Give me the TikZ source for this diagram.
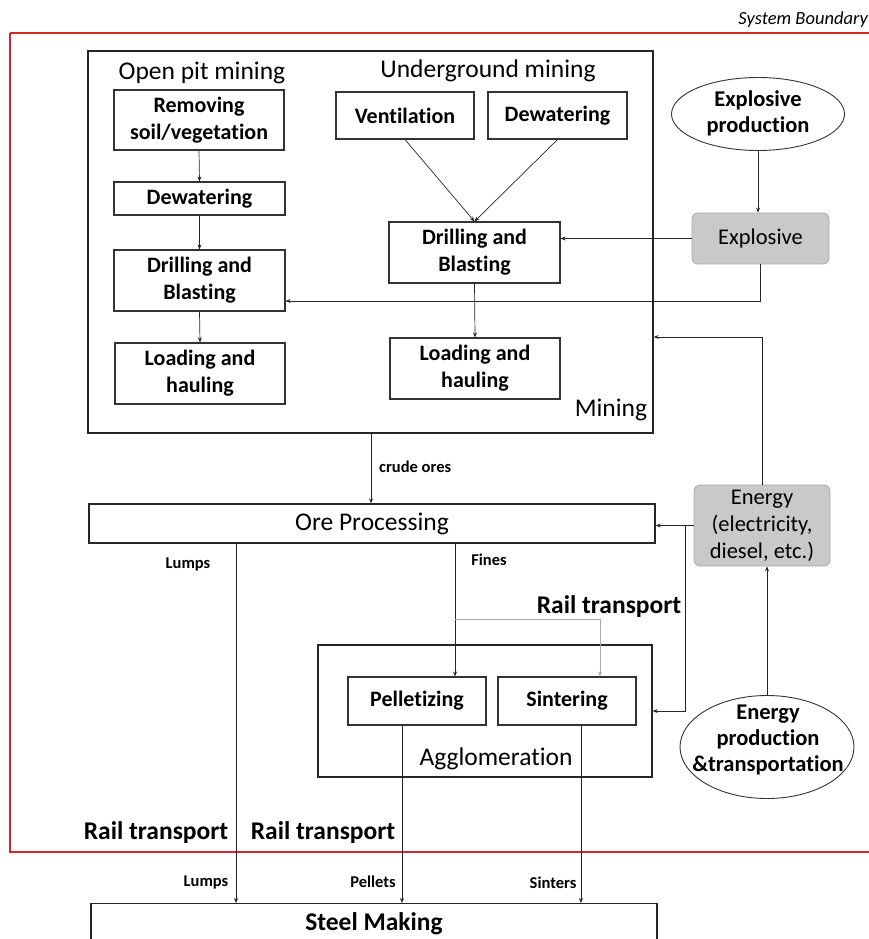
\documentclass[tikz,border=0pt]{standalone}
\usepackage{fontspec}
\setmainfont{Carlito}[Ligatures=NoCommon]
\usetikzlibrary{arrows.meta,shapes.geometric}
\definecolor{redb}{HTML}{D7262B}
\definecolor{grayfill}{HTML}{C9C9C9}
\definecolor{grayline}{HTML}{A8A8A8}
\tikzset{
  box/.style={draw=black!80, line width=1.1pt, inner sep=0pt, align=center, font=\fontsize{22}{27}\selectfont\bfseries},
  bigbox/.style={draw=black!85, line width=1.3pt, inner sep=0pt},
  graybox/.style={draw=grayline, fill=grayfill, rounded corners=6pt, line width=0.8pt, inner sep=0pt, align=center, font=\fontsize{22.5}{27}\selectfont},
  oval/.style={draw=black!80, ellipse, line width=0.9pt, inner sep=0pt},
  ovaltext/.style={inner sep=0pt, align=center, font=\fontsize{22.5}{26}\selectfont\bfseries},
  title/.style={font=\fontsize{25.5}{28}\selectfont, inner sep=0pt},
  small/.style={font=\fontsize{16.5}{18}\selectfont\bfseries, inner sep=0pt},
  rail/.style={font=\fontsize{25.5}{28}\selectfont\bfseries, inner sep=0pt},
  arr/.style={-{Stealth[length=5pt,width=4pt]}, line width=0.7pt, draw=black!85},
  arrgray/.style={-{Stealth[length=5pt,width=4pt]}, line width=0.7pt, draw=grayline},
}
\begin{document}
\begin{tikzpicture}[x=1pt,y=-1pt]
\useasboundingbox (0,0) rectangle (869,939);
% system boundary
\draw[redb, line width=2.2pt] (10,33) -- (880,33);
\draw[redb, line width=2.2pt] (880,852) -- (10,852) -- (10,33);
\node[font=\fontsize{18.5}{20}\selectfont\itshape, anchor=east, inner sep=0pt] (sb) at (868,20) {System Boundary};

% mining
\node[bigbox, minimum width=565pt, minimum height=382pt] (mining) at (370.5,242) {};
\node[title] (opt) at (202,73) {Open pit mining};
\node[title] (ugt) at (488,71) {Underground mining};
\node[title] (mint) at (611,410) {Mining};

\node[box, minimum width=170pt, minimum height=60pt] (rem) at (199,120) {Removing\\soil/vegetation};
\node[box, minimum width=171pt, minimum height=33pt] (dewL) at (199.5,198.5) {Dewatering};
\node[box, minimum width=171pt, minimum height=61pt] (drillL) at (199.5,280.5) {Drilling and\\Blasting};
\node[box, minimum width=170pt, minimum height=61pt] (loadL) at (200,373.5) {Loading and\\hauling};

\node[box, minimum width=138pt, minimum height=47pt] (vent) at (405,115.5) {Ventilation};
\node[box, minimum width=139pt, minimum height=47pt] (dewU) at (557.5,115.5) {Dewatering};
\node[box, minimum width=171pt, minimum height=61pt] (drillU) at (474.5,252.5) {Drilling and\\Blasting};
\node[box, minimum width=170pt, minimum height=61pt] (loadU) at (475,368.5) {Loading and\\hauling};

\node[oval, minimum width=173pt, minimum height=73pt] (expprod) at (758,114) {};
\node[ovaltext] (expprodt) at (758,113) {Explosive\\production};
\node[graybox, minimum width=137pt, minimum height=51pt] (expl) at (760.5,238.5) {Explosive};

% ore processing
\node[bigbox, minimum width=566pt, minimum height=39pt, font=\fontsize{25.5}{28}\selectfont] (ore) at (372,523.5) {Ore Processing};
\node[graybox, minimum width=136pt, minimum height=81pt] (energy) at (762,525.5) {Energy\\(electricity,\\diesel, etc.)};

% agglomeration
\node[bigbox, minimum width=334pt, minimum height=132pt] (aggl) at (485,711) {};
\node[title] (agt) at (496,759) {Agglomeration};
\node[box, minimum width=138pt, minimum height=48pt] (pel) at (417,701) {Pelletizing};
\node[box, minimum width=138pt, minimum height=48pt] (sint) at (567,701) {Sintering};

\node[oval, minimum width=174pt, minimum height=103pt] (enprod) at (767,747) {};
\node[ovaltext] (enprodt) at (768,740) {Energy\\production\\\&transportation};

% steel making
\node[bigbox, anchor=north, minimum width=566pt, text height=24pt, text depth=40pt, inner ysep=3pt, font=\fontsize{25.5}{28}\selectfont\bfseries] (steel) at (374,903) {Steel Making};

% helper coordinates
\coordinate (lumpx) at (236,0);
\coordinate (finx) at (455,0);
\coordinate (sinx) at (600,0);
\coordinate (pelox) at (402,0);
\coordinate (sinox) at (581,0);
\coordinate (crx) at (371,0);
\coordinate (fj) at (455,619);
\coordinate (br) at (685,525);

% connectors mining
\draw[arr] (rem.south) -- (dewL.north);
\draw[arr] (dewL.south) -- (drillL.north);
\draw[arr] (drillL.south) -- (loadL.north);
\draw[arr] (vent.south) -- (drillU.north);
\draw[arr] (dewU.south) -- (drillU.north);
\draw[arr] (drillU.south) -- (loadU.north);
\draw[arr] (expprod.south) -- (expprod.south |- expl.north);
\draw[arr] (expl.west) -- (expl.west -| drillU.east);
\draw[arr] (expl.south) |- ([yshift=-20.5pt]drillL.east);
\draw[arr] (energy.north) |- ([yshift=-95pt]mining.east);
\draw[arr] (mining.south -| crx) -- (ore.north -| crx);
\node[small, anchor=west] (crude) at (379,467) {crude ores};

% connectors ore processing
\draw[arr] (energy.west) -- (energy.west -| ore.east);
\draw[arr] (br) |- (aggl.east);
\draw[arr] (enprod.north) -- (enprod.north |- energy.south);
\draw[arr] (ore.south -| lumpx) -- (steel.north -| lumpx);
\draw[arr] (ore.south -| finx) -- (pel.north -| finx);
\draw[arrgray] (fj) -| (sint.north -| sinx);
\draw[arr] (pel.south -| pelox) -- (steel.north -| pelox);
\draw[arr] (sint.south -| sinox) -- (steel.north -| sinox);

% labels
\node[small] (lumps1) at (188,564) {Lumps};
\node[small] (fines) at (489,560) {Fines};
\node[rail] (rail1) at (609,607) {Rail transport};
\node[rail] (rail2) at (156,833) {Rail transport};
\node[rail] (rail3) at (323,833) {Rail transport};
\node[small] (lumps2) at (206,882) {Lumps};
\node[small] (pellets) at (373,882) {Pellets};
\node[small] (sinters) at (553,883) {Sinters};
\end{tikzpicture}
\end{document}
